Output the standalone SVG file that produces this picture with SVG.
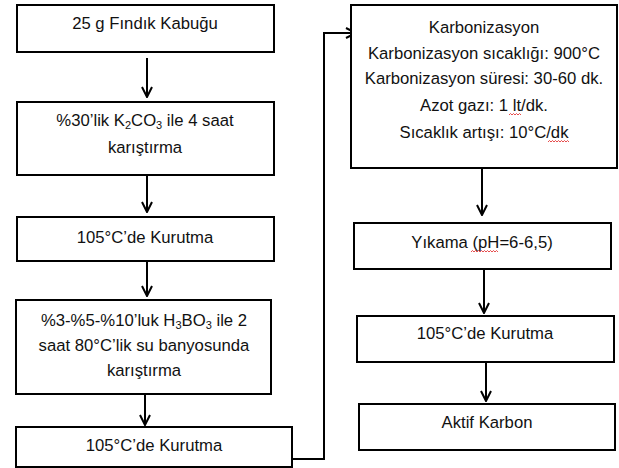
<svg xmlns="http://www.w3.org/2000/svg" width="619" height="468" viewBox="0 0 619 468">
<defs>
<marker id="arr" viewBox="0 0 12 12" refX="11" refY="6" markerWidth="12" markerHeight="12" markerUnits="userSpaceOnUse" orient="auto">
<polyline points="1,1 11,6 1,11" fill="none" stroke="#000" stroke-width="2"/>
</marker>
</defs>
<style>
.box{fill:#fff;stroke:#000;stroke-width:2}
.t{font-family:"Liberation Sans",Arial,sans-serif;font-size:16.7px;fill:#111;text-anchor:middle}
.c{fill:none;stroke:#000;stroke-width:2}
.sub{font-size:11px}
.sq{fill:none;stroke:#e02020;stroke-width:0.8}
</style>
<rect width="619" height="468" fill="#fff"/>
<g id="connectors">
<line class="c" x1="147" y1="58" x2="147" y2="97" marker-end="url(#arr)"/>
<line class="c" x1="147" y1="175" x2="147" y2="212" marker-end="url(#arr)"/>
<line class="c" x1="147" y1="261" x2="147" y2="296" marker-end="url(#arr)"/>
<line class="c" x1="145" y1="394" x2="145" y2="425" marker-end="url(#arr)"/>
<polyline class="c" points="292,459 324,459 324,33 356,33" marker-end="url(#arr)"/>
<line class="c" x1="482" y1="168" x2="482" y2="215" marker-end="url(#arr)"/>
<line class="c" x1="484" y1="269" x2="484" y2="313" marker-end="url(#arr)"/>
<line class="c" x1="486" y1="362" x2="486" y2="401" marker-end="url(#arr)"/>
</g>
<g id="n1">
<rect class="box" x="17" y="5" width="257" height="47"/>
<text class="t" x="145" y="29">25 g Fındık Kabuğu</text>
</g>
<g id="n2">
<rect class="box" x="17" y="102" width="257" height="73"/>
<text class="t" x="145" y="126">%30’lik K<tspan class="sub" dy="3">2</tspan><tspan dy="-3">CO</tspan><tspan class="sub" dy="3">3</tspan><tspan dy="-3"> ile 4 saat</tspan></text>
<text class="t" x="145" y="153">karıştırma</text>
</g>
<g id="n3">
<rect class="box" x="17" y="217" width="257" height="44"/>
<text class="t" x="145" y="243">105°C’de Kurutma</text>
</g>
<g id="n4">
<rect class="box" x="16" y="300" width="255" height="94"/>
<text class="t" x="144" y="326">%3-%5-%10’luk H<tspan class="sub" dy="3">3</tspan><tspan dy="-3">BO</tspan><tspan class="sub" dy="3">3</tspan><tspan dy="-3"> ile 2</tspan></text>
<text class="t" x="144" y="351">saat 80°C’lik su banyosunda</text>
<text class="t" x="144" y="376">karıştırma</text>
</g>
<g id="n5">
<rect class="box" x="16" y="427" width="276" height="40"/>
<text class="t" x="154" y="451">105°C’de Kurutma</text>
</g>
<g id="n6">
<rect class="box" x="351" y="5" width="266" height="163"/>
<text class="t" x="484" y="33">Karbonizasyon</text>
<text class="t" x="484" y="59">Karbonizasyon sıcaklığı: 900°C</text>
<text class="t" x="484" y="84">Karbonizasyon süresi: 30-60 dk.</text>
<text class="t" x="484" y="111">Azot gazı: 1 lt/dk.</text>
<text class="t" x="484" y="138">Sıcaklık artışı: 10°C/dk</text>
<path class="sq" d="M509,115 l1.5,-1.5 l1.5,1.5 l1.5,-1.5 l1.5,1.5 l1.5,-1.5 l1.5,1.5 l1.5,-1.5 l1.5,1.5"/>
<path class="sq" d="M548,142 l1.5,-1.5 l1.5,1.5 l1.5,-1.5 l1.5,1.5 l1.5,-1.5 l1.5,1.5 l1.5,-1.5 l1.5,1.5 l1.5,-1.5 l1.5,1.5 l1.5,-1.5 l1.5,1.5 l1.5,-1.5 l1.5,1.5"/>
</g>
<g id="n7">
<rect class="box" x="354" y="223" width="257" height="46"/>
<text class="t" x="482" y="248">Yıkama (pH=6-6,5)</text>
<path class="sq" d="M471,252 l1.5,-1.5 l1.5,1.5 l1.5,-1.5 l1.5,1.5 l1.5,-1.5 l1.5,1.5 l1.5,-1.5 l1.5,1.5 l1.5,-1.5 l1.5,1.5 l1.5,-1.5 l1.5,1.5 l1.5,-1.5 l1.5,1.5 l1.5,-1.5 l1.5,1.5 l1.5,-1.5 l1.5,1.5"/>
</g>
<g id="n8">
<rect class="box" x="357" y="316" width="257" height="46"/>
<text class="t" x="485" y="339">105°C’de Kurutma</text>
</g>
<g id="n9">
<rect class="box" x="359" y="404" width="256" height="46"/>
<text class="t" x="487" y="428">Aktif Karbon</text>
</g>
</svg>
